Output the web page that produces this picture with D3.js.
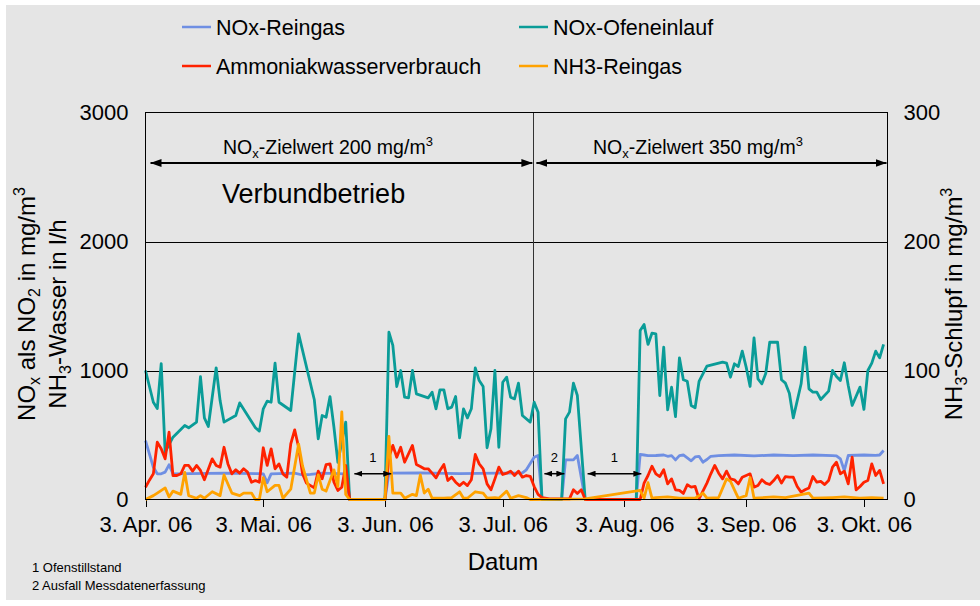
<!DOCTYPE html>
<html lang="de">
<head>
<meta charset="UTF-8">
<title>NOx / NH3 Verlauf 2006</title>
<script src="https://d3js.org/d3.v7.min.js"></script>
<style>
  body { margin: 0; background: #fff; }
  svg { display: block; font-family: "Liberation Sans", Arial, sans-serif; }
  .axis text { font-size: 22px; fill: #000; }
  .axis path { display: none; }
  .axis line { stroke: #000; shape-rendering: crispEdges; }
  .series { fill: none; stroke-width: 2.8; stroke-linejoin: round; }
</style>
</head>
<body>
<svg width="980" height="606"></svg>
<script>
// days after 3. Apr. 06, value
const noxReingas = [[0,457],[2,250],[3,199],[4,199],[5,212],[6,269],[7,199],[20,205],[29,200],[30,199],[31,130],[32,199],
  [38,205],[40,190],[42,195],[45,205],[51,199],[52,0],[61,0],[62,204],[70,206],[80,200],[90,204],[96,206],[97,230],
  [99,328],[100,341],[101,0],[106,0],[107,307],[109,307],[110,341],[112,0],[125,0],[126,349],[127,345],[128,340],
  [130,341],[132,345],[133,335],[134,340],[135,307],[136,340],[137,345],[139,300],[140,330],[141,335],[142,289],
  [143,310],[144,335],[146,340],[150,345],[155,338],[160,345],[165,340],[170,345],[175,340],[176,338],[177,315],
  [178,225],[179,341],[183,345],[186,342],[187,345],[188,380]];

const noxOfen = [[0,1000],[2,754],[3,705],[4,1054],[5,367],[7,483],[10,574],[11,556],[13,600],[14,953],[15,633],
  [16,566],[18,1021],[19,767],[20,600],[23,651],[24,749],[28,556],[29,530],[30,703],[31,762],[32,754],[33,1057],
  [34,754],[37,690],[39,1284],[43,773],[44,470],[45,651],[46,638],[47,798],[48,560],[49,289],[51,600],[52,0],[61,0],
  [62,1297],[63,1194],[64,876],[65,1000],[66,793],[67,788],[68,1000],[69,819],[72,788],[73,832],[74,703],[75,850],
  [76,850],[77,703],[78,716],[79,798],[80,478],[81,703],[82,633],[83,703],[84,1021],[85,922],[86,876],[87,401],
  [88,548],[89,1000],[90,405],[91,909],[92,948],[93,793],[94,780],[95,902],[96,651],[98,600],[99,754],[100,677],
  [101,0],[106,0],[107,625],[108,677],[109,902],[110,806],[112,0],[125,0],[126,1310],[127,1357],[128,1202],
  [129,1289],[130,1284],[131,806],[132,1181],[133,695],[134,871],[135,643],[136,1098],[137,928],[138,917],[139,729],
  [140,711],[141,915],[143,1034],[147,1065],[148,1057],[149,948],[150,1052],[151,1031],[152,1150],[153,1026],
  [154,876],[155,1253],[156,935],[157,897],[158,979],[159,1219],[161,1219],[162,928],[163,902],[164,824],[165,633],
  [167,897],[168,1181],[169,858],[170,832],[171,832],[172,775],[174,840],[175,1000],[176,953],[177,922],[178,1060],
  [179,884],[180,729],[182,871],[183,698],[184,1000],[185,1057],[186,1150],[187,1098],[188,1202]];

const ammoniak = [[0,95],[1,150],[2,199],[3,444],[4,393],[5,315],[6,522],[7,186],[8,186],[9,199],[10,264],[11,264],
  [12,220],[13,264],[14,225],[15,153],[17,315],[18,264],[19,251],[20,405],[21,276],[22,199],[23,230],[24,204],
  [25,238],[26,212],[27,134],[28,147],[29,134],[30,401],[31,264],[32,393],[33,238],[34,276],[35,199],[36,173],
  [37,431],[38,540],[39,405],[40,199],[41,127],[43,90],[44,220],[45,160],[46,271],[47,276],[48,134],[49,70],[50,95],
  [51,264],[52,0],[61,0],[62,328],[63,419],[64,328],[65,405],[66,289],[68,419],[69,271],[70,256],[71,238],[72,238],
  [73,204],[74,168],[75,225],[76,271],[77,147],[78,173],[79,134],[80,108],[81,134],[82,108],[83,153],[84,349],
  [85,276],[86,238],[87,121],[88,75],[89,160],[90,251],[91,194],[92,204],[93,220],[94,186],[95,220],[96,173],
  [97,186],[98,180],[99,100],[100,40],[101,15],[103,5],[108,5],[109,75],[110,47],[111,75],[112,0],[126,0],[127,127],
  [128,186],[129,258],[130,199],[131,178],[132,230],[133,121],[134,160],[135,75],[136,70],[137,47],[138,114],
  [139,96],[140,101],[141,5],[143,127],[144,199],[145,264],[146,204],[147,160],[148,220],[149,160],[150,153],
  [151,121],[152,173],[153,186],[154,199],[155,96],[156,108],[157,153],[158,127],[159,116],[160,147],[161,186],
  [162,127],[163,178],[164,173],[165,173],[166,101],[167,57],[168,75],[169,90],[170,178],[171,134],[172,140],
  [173,116],[174,147],[175,251],[176,289],[177,199],[178,220],[179,121],[180,328],[181,75],[182,101],[183,134],
  [184,147],[185,276],[186,186],[187,225],[188,121]];

// right axis (mg/m3)
const nh3Reingas = [[0,0],[2,3],[3,5],[5,9],[6,2],[7,6.5],[9,4],[10,21],[11,3],[13,1],[14,3],[15,1],[17,6],[19,3],
  [20,19],[22,5],[24,3],[25,5],[27,5],[28,0],[29,0],[30,17],[31,6],[33,11],[34,11],[35,1],[37,8],[39,43],[40,26],
  [42,5],[43,5],[44,19],[45,8],[46,6.5],[48,23],[49,10],[50,68],[51,4],[52,0],[61,0],[62,49],[63,5],[65,5],[66,1],
  [68,4],[69,3],[70,19],[71,5],[72,8],[73,1],[75,1],[76,1],[78,1.5],[80,6],[81,1],[82,1],[84,6],[86,5],[87,1],
  [89,1.5],[90,1],[92,6.5],[93,1],[95,3],[97,1.5],[98,0],[112,0.5],[126,7],[127,1],[128,13],[129,1],[130,1.5],
  [133,2],[136,1],[140,1],[142,5],[143,1],[146,1.5],[148,16],[149,14],[151,1],[153,3],[154,17],[155,1],[160,2],
  [163,1.5],[169,5],[170,1],[175,1.5],[178,2],[182,1],[185,1.5],[188,1]];

const monthTicks = ["3. Apr. 06", "3. Mai. 06", "3. Jun. 06", "3. Jul. 06", "3. Aug. 06", "3. Sep. 06", "3. Okt. 06"];
const leftTicks = [0, 1000, 2000, 3000];
const rightTicks = [0, 100, 200, 300];
const phaseChangeDay = 98.8;
const gaps = [{ from: 53.2, to: 62.6, label: "1" }, { from: 101.6, to: 106.7, label: "2" }, { from: 112.6, to: 126.3, label: "1" }];

const svg = d3.select("svg");
const plot = { left: 145.5, right: 887.5, top: 112.5, bottom: 499.5 };

const start = new Date(2006, 3, 3);
const day = d => new Date(start.getTime() + d * 864e5);

const x = d3.scaleTime().domain([start, day(189)]).range([plot.left, plot.right]);
const y = d3.scaleLinear().domain([0, 3000]).range([plot.bottom, plot.top]);
const yR = d3.scaleLinear().domain([0, 300]).range([plot.bottom, plot.top]);

// background
svg.append("rect").attr("x", 6).attr("y", 5).attr("width", 974).attr("height", 595).attr("fill", "#e5e5e5");

// gridlines
svg.append("g").selectAll("line").data([1000, 2000]).join("line")
  .attr("x1", plot.left).attr("x2", plot.right)
  .attr("y1", d => Math.round(y(d)) + 0.5).attr("y2", d => Math.round(y(d)) + 0.5)
  .attr("stroke", "#000").attr("stroke-width", 1);

// phase separator
const sepX = x(day(phaseChangeDay));
svg.append("line")
  .attr("x1", Math.round(sepX) + 0.5).attr("x2", Math.round(sepX) + 0.5)
  .attr("y1", plot.top).attr("y2", plot.bottom)
  .attr("stroke", "#333").attr("stroke-width", 1);

// axes
const tickDates = monthTicks.map((_, i) => new Date(2006, 3 + i, 3));
svg.append("g").attr("class", "axis")
  .attr("transform", `translate(0,${plot.bottom})`)
  .call(d3.axisBottom(x).tickValues(tickDates).tickSize(7).tickPadding(10)
    .tickFormat((d, i) => monthTicks[i]));

svg.append("g").attr("class", "axis")
  .attr("transform", `translate(${plot.left},0)`)
  .call(d3.axisLeft(y).tickValues(leftTicks).tickSize(0).tickPadding(17).tickFormat(d3.format("d")));

svg.append("g").attr("class", "axis")
  .attr("transform", `translate(${plot.right},0)`)
  .call(d3.axisRight(yR).tickValues(rightTicks).tickSize(0).tickPadding(16).tickFormat(d3.format("d")));

// series
const lineL = d3.line().x(d => x(day(d[0]))).y(d => y(d[1]));
const lineR = d3.line().x(d => x(day(d[0]))).y(d => yR(d[1]));

const series = [
  { name: "NOx-Reingas", data: noxReingas, color: "#6f8fe3", line: lineL },
  { name: "NOx-Ofeneinlauf", data: noxOfen, color: "#0a9c98", line: lineL },
  { name: "Ammoniakwasserverbrauch", data: ammoniak, color: "#ff2200", line: lineL },
  { name: "NH3-Reingas", data: nh3Reingas, color: "#ffa200", line: lineR }
];

svg.append("g").selectAll("path").data(series).join("path")
  .attr("class", "series")
  .attr("stroke", d => d.color)
  .attr("d", d => d.line(d.data));

// plot frame
svg.append("rect")
  .attr("x", plot.left).attr("y", plot.top)
  .attr("width", plot.right - plot.left).attr("height", plot.bottom - plot.top)
  .attr("fill", "none").attr("stroke", "#000").attr("stroke-width", 1);

// arrow markers
const defs = svg.append("defs");
function marker(id, w, h) {
  defs.append("marker").attr("id", id).attr("viewBox", `0 0 ${w} ${h}`)
    .attr("refX", w).attr("refY", h / 2).attr("markerWidth", w).attr("markerHeight", h)
    .attr("markerUnits", "userSpaceOnUse").attr("orient", "auto-start-reverse")
    .append("path").attr("d", `M0,0L${w},${h / 2}L0,${h}Z`).attr("fill", "#000");
}
marker("arrBig", 11, 8);
marker("arrSmall", 8, 6);

const arrowY = 163;
[[x(day(0)) + 5, sepX - 1], [sepX + 3, plot.right - 1]].forEach(([a, b]) => {
  svg.append("line").attr("x1", a).attr("x2", b).attr("y1", arrowY).attr("y2", arrowY)
    .attr("stroke", "#000").attr("stroke-width", 2.2)
    .attr("marker-start", "url(#arrBig)").attr("marker-end", "url(#arrBig)");
});

function ziel(xPos, val) {
  const t = svg.append("text").attr("x", xPos).attr("y", 154).attr("font-size", 19.5);
  t.append("tspan").text("NO");
  t.append("tspan").attr("font-size", 13).attr("dy", 4).text("x");
  t.append("tspan").attr("dy", -4).text(`-Zielwert ${val} mg/m`);
  t.append("tspan").attr("font-size", 13).attr("dy", -8).text("3");
}
ziel(223, 200);
ziel(593, 350);

svg.append("text").attr("x", 222).attr("y", 203).attr("font-size", 27).text("Verbundbetrieb");

// gap annotations
const gapG = svg.append("g").selectAll("g").data(gaps).join("g");
gapG.append("line")
  .attr("x1", d => x(day(d.from))).attr("x2", d => x(day(d.to)))
  .attr("y1", y(200)).attr("y2", y(200))
  .attr("stroke", "#000").attr("stroke-width", 1.5)
  .attr("marker-start", "url(#arrSmall)").attr("marker-end", "url(#arrSmall)");
gapG.append("text")
  .attr("x", d => (x(day(d.from)) + x(day(d.to))) / 2).attr("y", y(200) - 12)
  .attr("text-anchor", "middle").attr("font-size", 13).text(d => d.label);

// axis titles
const lt1 = svg.append("text").attr("transform", "translate(35,304) rotate(-90)")
  .attr("text-anchor", "middle").attr("font-size", 24);
lt1.append("tspan").text("NO");
lt1.append("tspan").attr("font-size", 16).attr("dy", 5).text("x");
lt1.append("tspan").attr("dy", -5).text(" als NO");
lt1.append("tspan").attr("font-size", 16).attr("dy", 5).text("2");
lt1.append("tspan").attr("dy", -5).text(" in mg/m");
lt1.append("tspan").attr("font-size", 16).attr("dy", -10).text("3");

const lt2 = svg.append("text").attr("transform", "translate(66,314) rotate(-90)")
  .attr("text-anchor", "middle").attr("font-size", 24);
lt2.append("tspan").text("NH");
lt2.append("tspan").attr("font-size", 16).attr("dy", 5).text("3");
lt2.append("tspan").attr("dy", -5).text("-Wasser in l/h");

const rt = svg.append("text").attr("transform", "translate(962,304) rotate(-90)")
  .attr("text-anchor", "middle").attr("font-size", 24);
rt.append("tspan").text("NH");
rt.append("tspan").attr("font-size", 16).attr("dy", 5).text("3");
rt.append("tspan").attr("dy", -5).text("-Schlupf in mg/m");
rt.append("tspan").attr("font-size", 16).attr("dy", -10).text("3");

svg.append("text").attr("x", 503).attr("y", 570).attr("text-anchor", "middle")
  .attr("font-size", 24).text("Datum");

// footnotes
svg.append("text").attr("x", 32).attr("y", 572).attr("font-size", 13).text("1 Ofenstillstand");
svg.append("text").attr("x", 32).attr("y", 590).attr("font-size", 13).text("2 Ausfall Messdatenerfassung");

// legend
const legendPos = [[182, 27], [519, 27], [182, 66], [519, 66]];
const leg = svg.append("g").selectAll("g").data(series).join("g")
  .attr("transform", (d, i) => `translate(${legendPos[i][0]},${legendPos[i][1]})`);
leg.append("line").attr("x1", 0).attr("x2", 29).attr("stroke", d => d.color).attr("stroke-width", 2.5);
leg.append("text").attr("x", 34).attr("y", 8).attr("font-size", 21.5).text(d => d.name);
</script>
</body>
</html>
